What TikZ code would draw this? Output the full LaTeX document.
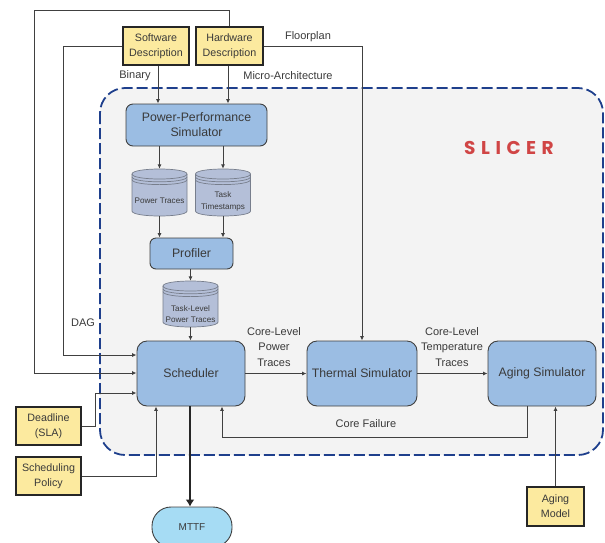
\documentclass[tikz,border=0pt]{standalone}
\usepackage{fontspec}
\setmainfont{Liberation Sans}
\newfontfamily\slicerfont{Poppins}[LetterSpace=30]
\usetikzlibrary{arrows.meta,calc}
\definecolor{txt}{HTML}{3A3A3A}
\definecolor{linecol}{HTML}{404040}
\definecolor{bluebox}{HTML}{9BBDE3}
\definecolor{yelbox}{HTML}{FCEA9F}
\definecolor{cylfill}{HTML}{B4BFD8}
\definecolor{cylline}{HTML}{777E8C}
\definecolor{mttfcol}{HTML}{A6DCF4}
\definecolor{regionfill}{HTML}{F3F3F3}
\definecolor{regionline}{HTML}{1E3F8C}
\definecolor{slicercol}{HTML}{D04545}
\newcommand\dbcyl[5]{%
  \pgfmathsetmacro\cyL{#2-#4/2}\pgfmathsetmacro\cyR{#2+#4/2}%
  \pgfmathsetmacro\cyT{#3-#5/2+5}\pgfmathsetmacro\cyB{#3+#5/2-5}%
  \filldraw[cylbody] (\cyL,\cyT) -- (\cyL,\cyB) .. controls (\cyL,\cyB+6.67) and (\cyR,\cyB+6.67) .. (\cyR,\cyB) -- (\cyR,\cyT) .. controls (\cyR,\cyT-6.67) and (\cyL,\cyT-6.67) .. cycle;
  \foreach \k in {0,2.8,5.6} \draw[cylbody,fill=none] (\cyL,\cyT+\k) .. controls (\cyL,\cyT+\k+6.67) and (\cyR,\cyT+\k+6.67) .. (\cyR,\cyT+\k);
  \node[minimum width=#4, minimum height=#5, inner sep=0] (#1) at (#2,#3) {};
}
\begin{document}
\begin{tikzpicture}[x=1pt,y=-1pt,
  blk/.style={draw=linecol, fill=bluebox, rounded corners=7, line width=0.9pt, font=\fontsize{12.3}{15}\selectfont, text=txt, align=center, inner sep=0},
  ybox/.style={draw=black!85, fill=yelbox, line width=1.2pt, font=\fontsize{10.7}{15}\selectfont, text=txt, align=center, inner sep=0},
  lbl/.style={font=\fontsize{11}{15.5}\selectfont, text=txt, align=center, inner sep=0},
  cyltxt/.style={font=\fontsize{8.1}{11.5}\selectfont, text=txt, align=center, inner sep=0},
  cylbody/.style={draw=cylline, fill=cylfill, line width=0.7pt},
  arr/.style={-{Latex[length=4.5pt,width=4pt]}, draw=linecol, line width=0.9pt},
  thick arr/.style={-{Latex[length=7pt,width=9pt]}, draw=black!85, line width=2.6pt},
]
\useasboundingbox (0,0) rectangle (605,542);

% region
\draw[fill=regionfill, draw=regionline, line width=1.8pt, dash pattern=on 11pt off 4pt, rounded corners=25] (100,88) rectangle (603,455);
\node[text=slicercol, inner sep=0] (slicer) at (509,148) {\slicerfont\bfseries\fontsize{18.5}{20}\selectfont SLICER};

% inputs
\node[ybox, minimum width=66, minimum height=38] (sw) at (156,46) {Software\\Description};
\node[ybox, minimum width=67, minimum height=38] (hw) at (229.5,46) {Hardware\\Description};
\node[ybox, minimum width=65, minimum height=38] (dl) at (48.5,426) {Deadline\\(SLA)};
\node[ybox, minimum width=65, minimum height=38] (sp) at (48.5,476) {Scheduling\\Policy};
\node[ybox, minimum width=57, minimum height=39] (am) at (555.5,506.5) {Aging\\Model};

% main blocks
\node[blk, minimum width=141, minimum height=42] (pps) at (196.5,125) {Power-Performance\\Simulator};
\dbcyl{pt}{159.5}{192.5}{55}{47}
\node[cyltxt] (ptlab) at ($(pt.center)+(0,8)$) {Power Traces};
\dbcyl{tt}{223}{192.5}{55}{47}
\node[cyltxt] (ttlab) at ($(tt.center)+(0,9)$) {Task\\Timestamps};
\node[blk, minimum width=83, minimum height=31, rounded corners=6] (prof) at (191.5,253.5) {Profiler};
\dbcyl{tlpt}{190.5}{304}{55}{46}
\node[cyltxt] (tlptlab) at ($(tlpt.center)+(0,10)$) {Task-Level\\Power Traces};
\node[blk, minimum width=108, minimum height=65, rounded corners=10] (sch) at (191,373.5) {Scheduler};
\node[blk, minimum width=110, minimum height=65, rounded corners=10] (th) at (362,373.5) {Thermal Simulator};
\node[blk, minimum width=108, minimum height=65, rounded corners=10] (ag) at (542,373.5) {Aging Simulator};
\node[draw=linecol, fill=mttfcol, line width=0.9pt, minimum width=80, minimum height=40, rounded corners=19, inner sep=0, font=\fontsize{10}{12}\selectfont, text=txt] (mttf) at (192,527) {MTTF};

% helper coordinates
\coordinate (topleft) at (34,10);
\coordinate (swleft) at (63,46);
\coordinate (dlbend) at (95,426);
\coordinate (cfdown) at (527,437);
\coordinate (schA) at ($(sch.west)+(0,-18.5)$);
\coordinate (schB) at ($(sch.west)+(0,-0.5)$);
\coordinate (schC) at ($(sch.west)+(0,19.5)$);
\coordinate (schS1) at ($(sch.south)+(-35,0)$);
\coordinate (schS2) at ($(sch.south)+(31,0)$);
\coordinate (schS0) at ($(sch.south)+(-1,0)$);
\coordinate (binstart) at ($(sw.south)+(2,0)$);
\coordinate (microstart) at ($(hw.south)+(-1.5,0)$);
\coordinate (agout) at ($(ag.south)+(-15,0)$);

% connectors
\draw[arr] (hw.north) |- (topleft) |- (schB);
\draw[arr] (sw.west) -- (swleft) |- (schA);
\draw[arr] (dl.east) -- (dlbend) |- (schC);
\draw[arr] (sp.east) -| (schS1);
\draw[arr] (binstart) -- (binstart |- pps.north);
\draw[arr] (microstart) -- (microstart |- pps.north);
\draw[arr] (hw.east) -| (th.north);
\draw[arr] (pps.south -| pt.north) -- (pt.north);
\draw[arr] (pps.south -| tt.north) -- (tt.north);
\draw[arr] (pt.south) -- (pt.south |- prof.north);
\draw[arr] (tt.south) -- (tt.south |- prof.north);
\draw[arr] (prof.south -| tlpt.north) -- (tlpt.north);
\draw[arr] (tlpt.south) -- (tlpt.south |- sch.north);
\draw[arr] (sch.east) -- (th.west);
\draw[arr] (th.east) -- (ag.west);
\draw[arr] (agout) -- (cfdown) -| (schS2);
\draw[arr] (am.north) -- (am.north |- ag.south);
\draw[thick arr] (schS0) -- (schS0 |- mttf.north);

% labels
\node[lbl] (lfloor) at (308,37) {Floorplan};
\node[lbl] (lbin) at (135,76) {Binary};
\node[lbl] (lmicro) at (288,76) {Micro-Architecture};
\node[lbl] (ldag) at (83,323) {DAG};
\node[lbl] (lclp) at (274,347) {Core-Level\\Power\\Traces};
\node[lbl] (lclt) at (452,347) {Core-Level\\Temperature\\Traces};
\node[lbl] (lcf) at (366,424) {Core Failure};
\end{tikzpicture}
\end{document}
